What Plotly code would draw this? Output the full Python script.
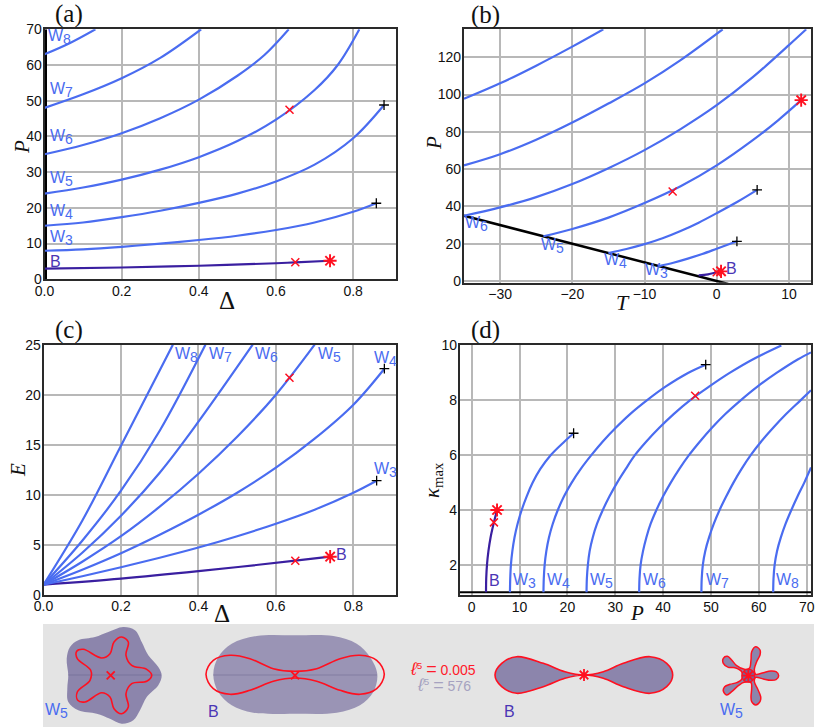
import plotly.graph_objects as go

W, H = 822, 728
BLUE = "#4a6cf0"; PURPLE = "#3a1fa0"; RED = "#ff1020"; LABEL_B = "#4a35b5"
SANS = "Liberation Sans"; SERIF = "Liberation Serif"

# ---------- panel a: P vs Delta
a_B = ([0, 0.2, 0.4, 0.6, 0.65, 0.74], [3, 3.3, 3.8, 4.5, 4.75, 5.2])
a_W3 = ([0, 0.1, 0.2, 0.3, 0.4, 0.5, 0.6, 0.7, 0.8, 0.86], [8, 8.4, 9.1, 10, 11, 12.2, 13.8, 15.9, 18.9, 21.3])
a_W4 = ([0, 0.1, 0.2, 0.3, 0.4, 0.5, 0.6, 0.7, 0.8, 0.88], [15, 15.9, 17.4, 19.2, 21.4, 24, 27.4, 32.1, 39.5, 48.8])
a_W5 = ([0, 0.1, 0.2, 0.3, 0.4, 0.5, 0.6, 0.7, 0.76, 0.816], [24, 25.7, 27.9, 30.7, 34.2, 38.7, 44.7, 53, 60, 70])
a_W6 = ([0, 0.1, 0.2, 0.3, 0.4, 0.5, 0.57, 0.633], [35, 37.6, 40.9, 45.1, 50.3, 57, 62.8, 70])
a_W7 = ([0, 0.1, 0.2, 0.3, 0.406], [48, 51.8, 56.3, 62, 70])
a_W8 = ([0, 0.065, 0.132], [63, 66.1, 70])
a_wall = ([0, 0], [0, 70])
a_x = ([0.65, 0.635], [4.75, 47.5])
a_star = ([0.74], [5.2])
a_plus = ([0.86, 0.88], [21.3, 48.8])
a_labels = ["B", "W3", "W4", "W5", "W6", "W7", "W8"]
a_lab_x = [0.013, 0.013, 0.013, 0.013, 0.013, 0.013, 0.01]
a_lab_y = [5, 11.5, 18.8, 28.2, 39.8, 53, 67.8]

# ---------- panel b: P vs T
b_wall = ([-35, 1.6], [35, -1.6])
b_B = ([-2.5, -1.2, 0, 0.6], [3, 3.6, 4.7, 5.2])
b_W3 = ([-8, -6, -4, -2, 0, 2.8], [8, 9.8, 12, 14.5, 17.3, 21.3])
b_W4 = ([-15, -12.5, -10, -7.5, -5, -2.5, 0, 3, 5.6], [15, 17.2, 19.8, 22.9, 26.8, 31.3, 36.4, 42.8, 48.9])
b_W5 = ([-24, -20, -15, -10, -5, 0, 5, 8.5, 11.7], [24, 27.9, 34, 41.8, 50.8, 62, 75.5, 86.2, 97])
b_W6 = ([-35, -30, -25, -20, -15, -10, -5, 0, 5, 10, 12.4], [35, 39.5, 45, 52, 60.5, 70.2, 81.5, 94.3, 109.3, 126.5, 135])
b_W7 = ([-35, -30, -25, -20, -15, -10, -5, 0.83], [62, 68, 75.8, 85, 95.2, 106, 118.5, 135])
b_W8 = ([-35, -30, -25, -20, -15.7], [97.7, 106, 115.5, 125.7, 135])
b_x = ([0, -6.1], [4.7, 48])
b_star = ([0.6, 11.7], [5.2, 97])
b_plus = ([2.8, 5.6], [21.3, 48.9])
b_labels = ["W6", "W5", "W4", "W3", "B"]
b_lab_x = [-34.8, -24.4, -15.6, -9.9, 1.3]
b_lab_y = [30.5, 19, 10.5, 5.5, 6.8]

# ---------- panel c: E vs Delta
c_B = ([0, 0.2, 0.4, 0.65, 0.74], [1, 1.6, 2.35, 3.4, 3.8])
c_W3 = ([0, 0.1, 0.2, 0.3, 0.4, 0.5, 0.6, 0.7, 0.8, 0.86], [1, 1.85, 2.75, 3.7, 4.72, 5.85, 7.1, 8.5, 10.2, 11.4])
c_W4 = ([0, 0.1, 0.2, 0.3, 0.4, 0.5, 0.6, 0.7, 0.8, 0.88], [1, 2.5, 4.15, 6, 8, 10.2, 12.7, 15.6, 19, 22.6])
c_W5 = ([0, 0.1, 0.2, 0.3, 0.4, 0.5, 0.6, 0.7], [1, 3.3, 5.85, 8.8, 12.1, 15.8, 20, 25])
c_W6 = ([0, 0.1, 0.2, 0.3, 0.4, 0.54], [1, 4.2, 7.9, 12.2, 17.3, 25])
c_W7 = ([0, 0.1, 0.2, 0.3, 0.418], [1, 5.4, 10.4, 16.4, 25])
c_W8 = ([0, 0.1, 0.2, 0.334], [1, 7.4, 14.9, 25])
c_x = ([0.65, 0.635], [3.4, 21.7])
c_star = ([0.74], [3.8])
c_plus = ([0.86, 0.88], [11.4, 22.6])
c_labels = ["W8", "W7", "W6", "W5", "W4", "W3", "B"]
c_lab_x = [0.34, 0.427, 0.547, 0.709, 0.852, 0.852, 0.754]
c_lab_y = [24, 24, 24, 24, 23.6, 12.5, 4.03]

# ---------- panel d: kappa_max vs P
d_wall = ([-2.5, 70.9], [1, 1])
d_B = ([3, 3.04, 3.2, 3.5, 3.95, 4.65, 5.3], [1, 1.5, 2, 2.5, 3, 3.55, 4])
d_W3 = ([8, 8.06, 8.2, 8.5, 8.95, 9.6, 10.45, 11.5, 12.75, 14.35, 16.5, 19.4, 21.3],
        [1, 1.5, 2, 2.5, 3, 3.5, 4, 4.5, 5, 5.5, 6, 6.5, 6.8])
d_W4 = ([15, 15.07, 15.25, 15.6, 16.15, 16.95, 18, 19.3, 20.9, 22.8, 25, 27.4, 30.1, 33.1, 36.6, 40.5, 45.2, 48.9],
        [1, 1.5, 2, 2.5, 3, 3.5, 4, 4.5, 5, 5.5, 6, 6.5, 7, 7.5, 8, 8.5, 9, 9.3])
d_W5 = ([24, 24.07, 24.28, 24.65, 25.3, 26.2, 27.4, 28.8, 30.4, 32.2, 34.1, 36.5, 39.2, 42.2, 45.6, 49.6, 53.9, 58.8, 64.7],
        [1, 1.5, 2, 2.5, 3, 3.5, 4, 4.5, 5, 5.5, 6, 6.5, 7, 7.5, 8, 8.5, 9, 9.5, 10])
d_W6 = ([35, 35.07, 35.3, 35.8, 36.5, 37.4, 38.6, 40, 41.6, 43.4, 45.4, 47.7, 50.2, 53, 56.2, 59.7, 63.7, 68.2, 70.9],
        [1, 1.5, 2, 2.5, 3, 3.5, 4, 4.5, 5, 5.5, 6, 6.5, 7, 7.5, 8, 8.5, 9, 9.5, 9.75])
d_W7 = ([48, 48.07, 48.3, 48.8, 49.6, 50.6, 51.8, 53.2, 54.7, 56.4, 58.3, 60.5, 63, 65.7, 68.7, 70.9],
        [1, 1.5, 2, 2.5, 3, 3.5, 4, 4.5, 5, 5.5, 6, 6.5, 7, 7.5, 8, 8.37])
d_W8 = ([63, 63.07, 63.3, 63.8, 64.6, 65.6, 66.8, 68.1, 69.5, 70.9], [1, 1.5, 2, 2.5, 3, 3.5, 4, 4.5, 5, 5.55])
d_x = ([4.65, 46.7], [3.55, 8.17])
d_star = ([5.3], [4])
d_plus = ([21.3, 48.9], [6.8, 9.3])
d_labels = ["B", "W3", "W4", "W5", "W6", "W7", "W8"]
d_lab_x = [3.7, 8.7, 15.75, 24.7, 35.75, 48.9, 63.6]
d_lab_y = [1.42, 1.42, 1.42, 1.42, 1.42, 1.42, 1.42]

# ---------- bottom strip: outlines, in picture pixels
s1_outer = ([123.3, 135, 141.7, 148.3, 158.3, 161.7, 158.3, 146.7, 140, 133.3, 121.7, 110, 96.7, 78.3, 68.3, 67.3, 68.3, 66.7, 70, 78.3, 95, 108.3],
            [627, 630.3, 642, 655.3, 667, 675.3, 685.3, 697, 710.3, 720.3, 723.7, 718.7, 713.7, 710.3, 702, 688.7, 675.3, 658.7, 647, 640.3, 637, 632])
s1_red = ([121.7, 128.3, 126, 131.7, 146.7, 151.7, 146.7, 131.7, 126, 128.3, 121.7, 114, 110, 101.7, 85, 77.7, 77.3, 90, 90.7, 77.3, 76.7, 83.3, 101.7, 110, 114],
          [637, 642, 655.3, 665.3, 669.3, 675.3, 681.3, 683.7, 693.7, 707, 713.7, 708.7, 697, 692.7, 702, 700.3, 692, 680.3, 670.3, 658.7, 651.3, 649.3, 658, 653.7, 642])
s2_outer = ([295, 333.3, 356.7, 370, 377.3, 373.3, 360, 336.7, 295, 253.3, 231.7, 218.3, 213.3, 218.3, 231.7, 256.7],
            [635.3, 636, 643.7, 657, 674.3, 692, 705.3, 712.7, 713.7, 712.7, 705.3, 692, 674.3, 657, 643.7, 636])
s2_red = ([295, 316.7, 340, 360, 376.7, 384.3, 376.7, 360, 340, 316.7, 295, 273.3, 250, 230, 213.3, 206, 213.3, 230, 250, 273.3],
          [671.3, 668.7, 658.7, 655.3, 660.3, 674.3, 688.7, 694.3, 690.3, 681.3, 678, 681.3, 690.3, 694.3, 688.7, 674.3, 660.3, 655.3, 658.7, 668.7])
s3_red = ([584, 603.3, 623.3, 650, 666.7, 672.7, 666.7, 650, 623.3, 603.3, 584, 565, 543.3, 516.7, 501.7, 495, 501.7, 516.7, 543.3, 565],
          [675, 671.7, 663.3, 656.7, 663.3, 675, 686.7, 693.3, 686.7, 678.3, 675, 678.3, 686.7, 693.3, 686.7, 675, 663.3, 656.7, 663.3, 671.7])
s4_zx = [167, 190, 212, 228, 236, 228, 212, 190, 167, 163, 172, 182, 180, 167, 155, 153, 155, 153,
         132, 115, 95, 80, 70, 74, 90, 110, 125, 125, 105, 85, 70, 70, 82, 95, 110, 133, 148, 153, 155, 167, 180, 180, 170, 163]
s4_zy = [118, 113, 108, 110, 122, 134, 136, 132, 127, 140, 160, 185, 200, 210, 200, 185, 160, 143,
         142, 152, 170, 180, 168, 155, 148, 143, 133, 110, 98, 97, 85, 70, 64, 75, 92, 103, 100, 75, 50, 35, 45, 60, 80, 103]
s_seam_y = [675, 675]
s1_seam_x = [68, 161]
s2_seam_x = [213, 377]
s_center_x = [110.7, 295, 584, 748.3]
s_center_y = [675.3, 675.3, 675, 675.7]
s_labels = ["W5", "B", "B", "W5"]
s_lab_x = [45, 208, 504, 720]
s_lab_y = [711, 711, 711, 711]

s4_red = ([700 + v / 3 for v in s4_zx], [635 + v / 3 for v in s4_zy])

def hx(px0, px1):
    return [px0 / W, px1 / W]

def vy(py0, py1):
    return [1 - py1 / H, 1 - py0 / H]

def wlabel(s):
    if s.startswith("W"):
        return 'W<sub><span style="font-size:14px">%s</span></sub>' % s[1:]
    return s

fig = go.Figure()
FRAME = "#2a2a2a"; GRID = "#b8b8b8"
TICK = dict(family=SANS, size=14, color="#111111")

def ax(domain, rng, dtick, tickformat=None):
    d = dict(domain=domain, range=rng, dtick=dtick, showgrid=True, gridcolor=GRID, gridwidth=1.5,
             zeroline=False, showline=True, linecolor=FRAME, linewidth=1.8, mirror=True, automargin=False,
             ticks="", tickfont=TICK, ticklabelstandoff=-2)
    if tickformat:
        d["tickformat"] = tickformat
    return d

fig.update_layout(
    width=W, height=H, margin=dict(l=0, r=0, t=0, b=0), paper_bgcolor="white", plot_bgcolor="white",
    showlegend=False, autosize=False,
    xaxis=dict(ax(hx(44.5, 396), [0, 0.911], 0.2, ".1f"), anchor="y"),
    yaxis=dict(ax(vy(29.3, 279.3), [0, 70], 10), anchor="x"),
    xaxis2=dict(ax(hx(463.7, 811), [-35.04, 13.06], 10), anchor="y2"),
    yaxis2=dict(ax(vy(29.3, 282.7), [-0.9, 135], 20), anchor="x2"),
    xaxis3=dict(ax(hx(43.5, 396), [0, 0.91], 0.2, ".1f"), anchor="y3"),
    yaxis3=dict(ax(vy(344.7, 594.7), [0, 25], 5), anchor="x3"),
    xaxis4=dict(ax(hx(459.7, 811), [-2.5, 70.9], 10), anchor="y4"),
    yaxis4=dict(ax(vy(344.7, 595), [0.9, 10.03], 2), anchor="x4"),
    xaxis5=dict(domain=hx(43, 814), range=[43, 814], visible=False, anchor="y5", fixedrange=True, automargin=False),
    yaxis5=dict(domain=vy(624, 727), range=[727, 624], visible=False, anchor="x5", fixedrange=True, automargin=False),
)

def add_panel(i, wall, curves, xs, stars, pluses):
    suf = "" if i == 1 else str(i)
    xa, ya = "x" + suf, "y" + suf
    if wall:
        fig.add_trace(go.Scatter(x=wall[0], y=wall[1], mode="lines", xaxis=xa, yaxis=ya,
                                 line=dict(color="black", width=wall[2]), hoverinfo="skip"))
    for c, col in curves:
        fig.add_trace(go.Scatter(x=c[0], y=c[1], mode="lines", xaxis=xa, yaxis=ya,
                                 line=dict(color=col, width=2.2, shape="spline", smoothing=1.0)))
    fig.add_trace(go.Scatter(x=xs[0], y=xs[1], mode="markers", xaxis=xa, yaxis=ya,
                             marker=dict(symbol="x-thin", size=8, line=dict(color=RED, width=1.5))))
    fig.add_trace(go.Scatter(x=stars[0], y=stars[1], mode="markers", xaxis=xa, yaxis=ya,
                             marker=dict(symbol="asterisk", size=11, line=dict(color=RED, width=1.9))))
    fig.add_trace(go.Scatter(x=pluses[0], y=pluses[1], mode="markers", xaxis=xa, yaxis=ya,
                             marker=dict(symbol="cross-thin", size=7, line=dict(color="black", width=1.3))))

def curves(B, rest):
    return [(B, PURPLE)] + [(c, BLUE) for c in rest]

add_panel(1, (a_wall[0], a_wall[1], 5), curves(a_B, [a_W3, a_W4, a_W5, a_W6, a_W7, a_W8]), a_x, a_star, a_plus)
add_panel(2, (b_wall[0], b_wall[1], 2.5), curves(b_B, [b_W3, b_W4, b_W5, b_W6, b_W7, b_W8]), b_x, b_star, b_plus)
add_panel(3, None, curves(c_B, [c_W3, c_W4, c_W5, c_W6, c_W7, c_W8]), c_x, c_star, c_plus)
add_panel(4, (d_wall[0], d_wall[1], 2), curves(d_B, [d_W3, d_W4, d_W5, d_W6, d_W7, d_W8]), d_x, d_star, d_plus)

# bottom strip
fig.add_shape(type="rect", xref="x5 domain", yref="y5 domain", x0=0, x1=1, y0=0, y1=1,
              fillcolor="#e4e4e4", line=dict(width=0), layer="below")
FILL1 = "rgba(105,95,150,0.72)"; FILL2 = "rgba(105,95,150,0.6)"
def strip(xy, fill=None, line=None, width=1.6):
    fig.add_trace(go.Scatter(x=list(xy[0]) + list(xy[0][:1]), y=list(xy[1]) + list(xy[1][:1]), mode="lines", xaxis="x5", yaxis="y5",
                             fill="toself" if fill else None, fillcolor=fill,
                             line=dict(color=line or "rgba(0,0,0,0)", width=width if line else 0, shape="spline", smoothing=1.0)))
strip(s1_outer, FILL1)
strip(s2_outer, FILL2)
for sx in (s1_seam_x, s2_seam_x):
    fig.add_trace(go.Scatter(x=sx, y=s_seam_y, mode="lines", xaxis="x5", yaxis="y5",
                             line=dict(color="rgba(90,80,130,0.35)", width=1)))
strip(s1_red, None, RED)
strip(s2_red, None, RED)
strip(s3_red, FILL1, RED)
strip(s4_red, FILL1, RED, 1.5)
fig.add_trace(go.Scatter(x=s_center_x[3:], y=s_center_y[3:], mode="markers", xaxis="x5", yaxis="y5",
                         marker=dict(symbol="circle", size=13, color="rgba(105,95,150,0.8)", line=dict(color=RED, width=1.2))))
fig.add_trace(go.Scatter(x=s_center_x[:2], y=s_center_y[:2], mode="markers", xaxis="x5", yaxis="y5",
                         marker=dict(symbol="x-thin", size=8, line=dict(color=RED, width=1.8))))
fig.add_trace(go.Scatter(x=s_center_x[2:], y=s_center_y[2:], mode="markers", xaxis="x5", yaxis="y5",
                         marker=dict(symbol="asterisk", size=10, line=dict(color=RED, width=1.8))))

def add_labels(i, labels, xs, ys):
    suf = "" if i == 1 else str(i)
    for t, x, y in zip(labels, xs, ys):
        fig.add_annotation(x=x, y=y, xref="x" + suf, yref="y" + suf, text=wlabel(t), showarrow=False,
                           xanchor="left", yanchor="middle", xshift=-2,
                           font=dict(family=SANS, size=16, color=LABEL_B if t == "B" else BLUE))
add_labels(1, a_labels, a_lab_x, a_lab_y)
add_labels(2, b_labels, b_lab_x, b_lab_y)
add_labels(3, c_labels, c_lab_x, c_lab_y)
add_labels(4, d_labels, d_lab_x, d_lab_y)
add_labels(5, s_labels, s_lab_x, s_lab_y)

panel_names = ["(a)", "(b)", "(c)", "(d)"]
panel_x = [69, 485, 69, 485]
panel_y = [14, 15, 330, 330]
for t, x, y in zip(panel_names, panel_x, panel_y):
    fig.add_annotation(x=x / W, y=1 - y / H, xref="paper", yref="paper", text=t, showarrow=False,
                       font=dict(family=SERIF, size=25, color="#111111"), xanchor="center", yanchor="middle")

# axis titles
title_text = ["Δ", "<i>P</i>", "<i>T</i>", "<i>P</i>", "Δ", "<i>E</i>", "<i>P</i>", "<i>κ</i><sub>max</sub>"]
title_x = [227, 22, 623, 434, 222, 18, 637, 433]
title_y = [300, 147, 302, 143, 613, 470, 613, 480]
title_angle = [0, -90, 0, -90, 0, -90, 0, -90]
title_size = [25, 21, 22, 21, 25, 21, 21, 21]
for t, x, y, a, s in zip(title_text, title_x, title_y, title_angle, title_size):
    fig.add_annotation(x=x / W, y=1 - y / H, xref="paper", yref="paper", text=t, showarrow=False, textangle=a,
                       font=dict(family=SERIF, size=s, color="#111111"), xanchor="center", yanchor="middle")

strip_texts = ['<span style="font-size:18px"><i>ℓ</i></span><sup>5</sup> <span style="font-size:18px">=</span> 0.005',
               '<span style="font-size:18px"><i>ℓ</i></span><sup>5</sup> <span style="font-size:18px">=</span> 576']
strip_x = [443, 444]
strip_y = [669, 685]
strip_col = ["#ff1a2a", "#a6a2c0"]
for t, x, y, c in zip(strip_texts, strip_x, strip_y, strip_col):
    fig.add_annotation(x=x, y=y, xref="x5", yref="y5", text=t, showarrow=False,
                       font=dict(family=SANS, size=14, color=c), xanchor="center", yanchor="middle")

fig.write_html("out.html", config={"displayModeBar": False}, post_script="document.body.style.margin='0';")
